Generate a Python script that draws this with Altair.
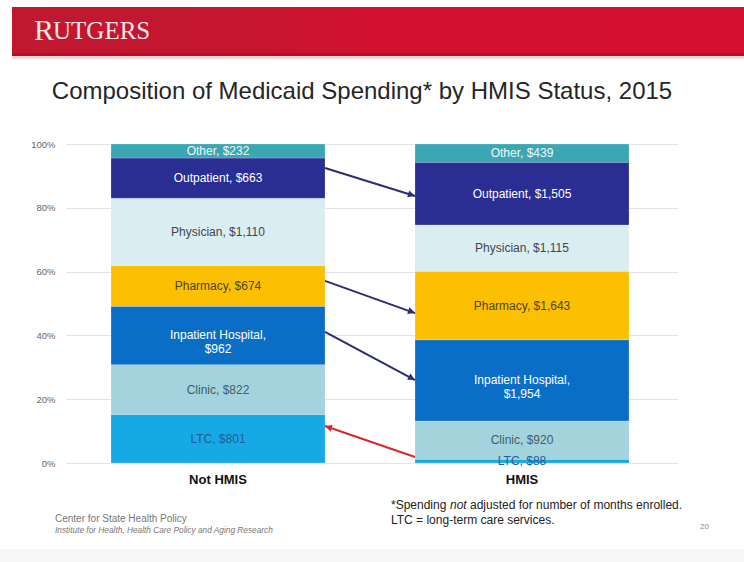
import math
import altair as alt
import pandas as pd

# ---------------- data ----------------
groups = ["Not HMIS", "HMIS"]
categories = ["LTC", "Clinic", "Inpatient Hospital", "Pharmacy", "Physician", "Outpatient", "Other"]
not_hmis_spending = [801, 822, 962, 674, 1110, 663, 232]
hmis_spending = [88, 920, 1954, 1643, 1115, 1505, 439]
y_tick_values = [0, 0.2, 0.4, 0.6, 0.8, 1.0]

# arrows (share of spending, %) : Not HMIS side -> HMIS side
arrow_not_hmis_pct = [92.5, 57.1, 41.1, 11.6]
arrow_hmis_pct = [83.7, 47.0, 26.0, 1.9]
arrow_kind = ["navy", "navy", "navy", "red"]

# ---------------- styles ----------------
SEG_COLORS = {
    "LTC": "#17a9e6", "Clinic": "#a3d3dc", "Inpatient Hospital": "#0b6ec6",
    "Pharmacy": "#fbc002", "Physician": "#daedf2", "Outpatient": "#2a2d91", "Other": "#3ba7b3",
}
TEXT_COLORS = {
    "LTC": "#1d5f98", "Clinic": "#3f5f66", "Inpatient Hospital": "#ffffff",
    "Pharmacy": "#4f4418", "Physician": "#454545", "Outpatient": "#ffffff", "Other": "#f2f8f9",
}
ARROW_COLORS = {"navy": "#2c2c78", "red": "#d7282b"}

W, H = 612, 319
PAD = {"left": 66, "top": 144, "right": 66, "bottom": 99}
STEP = 304
P_IN = 90 / STEP
P_OUT = (W / STEP - 2 + P_IN) / 2
ALIGN = 45 / (W - 2 * STEP + 90)
GAP = STEP * P_IN

rows = []
for g, vals in zip(groups, [not_hmis_spending, hmis_spending]):
    for i, (c, v) in enumerate(zip(categories, vals)):
        sep = ",\n" if c == "Inpatient Hospital" else ", "
        rows.append(dict(group=g, category=c, order=i, value=v,
                         label=f"{c}{sep}${v:,}", tcolor=TEXT_COLORS[c]))
df = pd.DataFrame(rows)

xscale = alt.Scale(domain=groups, paddingInner=P_IN, paddingOuter=P_OUT, align=ALIGN)
yscale = alt.Scale(domain=[0, 1], nice=False, zero=True)
xaxis = alt.Axis(labelAngle=0, domain=False, ticks=False, labelPadding=10, title=None,
                 labelFontSize=13, labelFontWeight="bold", labelColor="#111111",
                 labelFont="Liberation Sans", grid=False)
yaxis = alt.Axis(values=y_tick_values, format=".0%", domain=False, ticks=False, title=None,
                 labelPadding=11, labelFontSize=9.5, labelColor="#666666",
                 labelFont="Liberation Sans", grid=True, gridColor="#e4e4e4")


def X(field, bp=None):
    if bp is None:
        return alt.X(field, scale=xscale, axis=xaxis, title=None)
    return alt.X(field, scale=xscale, axis=xaxis, title=None, bandPosition=bp)


def Y(field):
    return alt.Y(field, scale=yscale, axis=yaxis, title=None)


base = alt.Chart(df).transform_stack(
    stack="value", groupby=["group"], as_=["y0", "y1"], offset="normalize",
    sort=[alt.SortField("order", order="ascending")],
).transform_calculate(ym="(datum.y0 + datum.y1) / 2")

bars = base.mark_bar(stroke="#ffffff", strokeWidth=0.4, strokeOpacity=0.5).encode(
    x=X("group:N"),
    y=Y("y0:Q"),
    y2="y1:Q",
    color=alt.Color("category:N", legend=None,
                    scale=alt.Scale(domain=categories, range=[SEG_COLORS[c] for c in categories])),
)

seg_text = base.mark_text(fontSize=12, font="Liberation Sans", lineBreak="\n",
                          lineHeight=14, baseline="middle").encode(
    x=X("group:N"),
    y=Y("ym:Q"),
    text="label:N",
    color=alt.Color("tcolor:N", scale=None),
)

# arrows
adf = pd.DataFrame(dict(left=groups[0], right=groups[1],
                        yl=[p / 100 for p in arrow_not_hmis_pct],
                        yr=[p / 100 for p in arrow_hmis_pct],
                        stroke=[ARROW_COLORS[k] for k in arrow_kind], kind=arrow_kind))


def head_angle(dx, dy):
    return (math.degrees(math.atan2(dx, -dy)) + 360) % 360


adf["ang_to_hmis"] = [head_angle(GAP, (a - b) * H) for a, b in zip(adf.yl, adf.yr)]
adf["ang_to_not"] = [head_angle(-GAP, -(a - b) * H) for a, b in zip(adf.yl, adf.yr)]

rules = alt.Chart(adf).mark_rule(strokeWidth=2).encode(
    x=X("left:N", 1),
    x2=alt.X2("right:N", bandPosition=0),
    y=Y("yl:Q"),
    y2="yr:Q",
    color=alt.Color("stroke:N", scale=None),
)

HEAD = "M0,0L-0.5,1L0.5,1Z"
heads_hmis = alt.Chart(adf[adf.kind == "navy"]).mark_point(
    shape=HEAD, filled=True, size=200, opacity=1, strokeWidth=0).encode(
    x=X("right:N", 0),
    y=Y("yr:Q"),
    angle=alt.Angle("ang_to_hmis:Q", scale=None),
    color=alt.Color("stroke:N", scale=None),
)
heads_not = alt.Chart(adf[adf.kind == "red"]).mark_point(
    shape=HEAD, filled=True, size=200, opacity=1, strokeWidth=0).encode(
    x=X("left:N", 1),
    y=Y("yl:Q"),
    angle=alt.Angle("ang_to_not:Q", scale=None),
    color=alt.Color("stroke:N", scale=None),
)

# ---------------- slide decoration ----------------
dummy = pd.DataFrame({"a": [0]})
OX, OY = PAD["left"], PAD["top"]


def rect(x1, x2, y1, y2, color):
    return alt.Chart(dummy).mark_rect(color=color).encode(
        x=alt.value(x1 - OX), x2=alt.value(x2 - OX), y=alt.value(y1 - OY), y2=alt.value(y2 - OY))


def txt(text, x, y, size, color, font="Liberation Sans", weight="normal", style="normal",
        align="left", baseline="middle"):
    return alt.Chart(dummy).mark_text(
        text=text, fontSize=size, color=color, font=font, fontWeight=weight, fontStyle=style,
        align=align, baseline=baseline).encode(x=alt.value(x - OX), y=alt.value(y - OY))


band_grad = alt.LinearGradient(
    gradient="linear", x1=0, x2=1, y1=0, y2=0,
    stops=[alt.GradientStop(color="#c0192f", offset=0),
           alt.GradientStop(color="#c5162f", offset=0.3),
           alt.GradientStop(color="#d2112f", offset=0.5),
           alt.GradientStop(color="#d50f30", offset=1)])

decor = [
    alt.Chart(dummy).mark_rect(color=band_grad).encode(
        x=alt.value(12 - OX), x2=alt.value(744 - OX), y=alt.value(7 - OY), y2=alt.value(54 - OY)),
    rect(12, 744, 53, 56, "#b30f29"),
    rect(12, 744, 56, 59, "#f3d6da"),
    rect(0, 744, 549, 562, "#f7f7f7"),
    txt("R", 34, 40, 30, "#f6e6e8", font="Liberation Serif", baseline="alphabetic"),
    txt("UTGERS", 53, 39, 25, "#f6e6e8", font="Liberation Serif", baseline="alphabetic"),
    txt("Composition of Medicaid Spending* by HMIS Status, 2015", 362, 99, 24, "#262626",
        align="center", baseline="alphabetic"),
    txt("*Spending", 391, 505, 12, "#222222"),
    txt("not", 450, 505, 12, "#222222", style="italic"),
    txt("adjusted for number of months enrolled.", 470, 505, 12, "#222222"),
    txt("LTC = long-term care services.", 391, 520, 12, "#222222"),
    txt("Center for State Health Policy", 55, 519, 10, "#777777"),
    txt("Institute for Health, Health Care Policy and Aging Research", 55, 531, 8.3, "#777777",
        style="italic"),
    txt("20", 700, 527, 8, "#888888"),
]

chart = alt.layer(*decor[:4], bars, seg_text, rules, heads_hmis, heads_not, *decor[4:]).resolve_scale(
    color="independent"
).properties(
    width=W, height=H, padding=PAD, autosize=alt.AutoSizeParams(type="none"),
    background="#ffffff",
).configure(font="Liberation Sans").configure_view(stroke=None)

chart.save("out.html", embed_options={"renderer": "svg", "actions": False})
